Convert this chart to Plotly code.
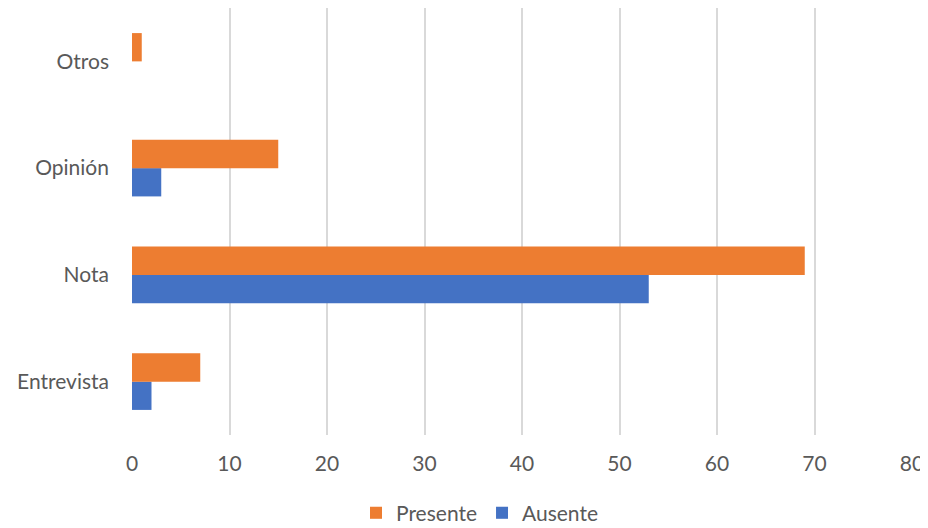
import plotly.graph_objects as go

categories = ["Entrevista", "Nota", "Opinión", "Otros"]
ausente = [2, 53, 3, None]
presente = [7, 69, 15, 1]
x_ticks = [0, 10, 20, 30, 40, 50, 60, 70, 80]

fig = go.Figure()
fig.add_trace(go.Bar(y=categories, x=ausente, name="Ausente", orientation="h",
                     marker=dict(color="#4472C4", line=dict(width=0))))
fig.add_trace(go.Bar(y=categories, x=presente, name="Presente", orientation="h",
                     marker=dict(color="#ED7D31", line=dict(width=0))))

fig.update_layout(
    width=928, height=520,
    paper_bgcolor="white", plot_bgcolor="white",
    barmode="group", bargap=0.47, bargroupgap=0,
    margin=dict(l=124, r=24, t=0, b=93, autoexpand=False),
    font=dict(family="Lato, Open Sans, sans-serif", size=21, color="#595959"),
    legend=dict(orientation="h", x=472, xanchor="center", xref="container",
                y=-0.135, yanchor="top", yref="paper",
                traceorder="reversed", font=dict(size=21, color="#595959"),
                itemwidth=30),
    showlegend=True,
)
fig.update_layout(legend_x=472 / 928)
fig.update_xaxes(range=[0, 80], tickvals=x_ticks, showgrid=True, gridcolor="#D9D9D9",
                 gridwidth=1.5, zeroline=False, showline=False, ticks="",
                 ticklabelstandoff=14, automargin=False, ticklabeloverflow="allow")
fig.update_yaxes(showgrid=False, zeroline=False, showline=False, ticks="",
                 ticklabelstandoff=22, automargin=False)

fig.write_html(
    "out.html",
    post_script="document.documentElement.style.overflow='hidden';document.body.style.overflow='hidden';",
)
